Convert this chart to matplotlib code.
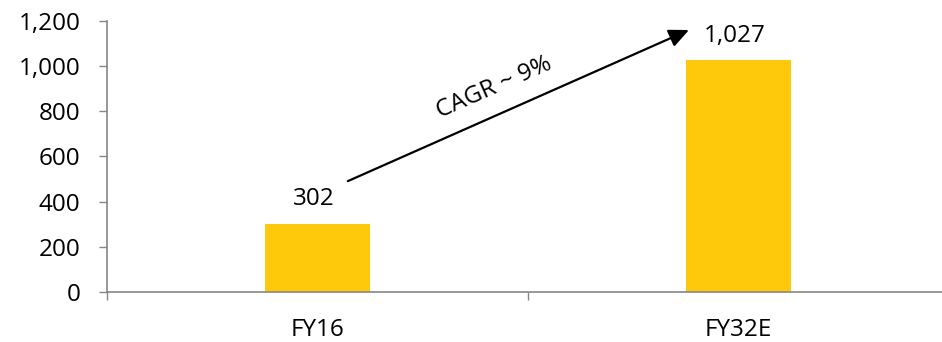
import matplotlib
matplotlib.use("Agg")
import matplotlib.pyplot as plt
from matplotlib.ticker import FuncFormatter, FixedLocator

# market size, FY16 actual vs FY32 estimate
years = ["FY16", "FY32E"]
values = [302, 1027]
cagr_text = "CAGR ~ 9%"

bar_colour = "#FFC90B"
axis_grey = "#868686"

plt.rcParams["font.family"] = ["Open Sans", "DejaVu Sans"]

fig = plt.figure(figsize=(9.42, 3.42), dpi=100)
ax = fig.add_axes([0.1136, 0.1462, 0.894, 0.7924])

x = list(range(len(years)))
ax.bar(x, values, width=0.25, color=bar_colour, zorder=2)

for xi, v in zip(x, values):
    ax.text(xi - 0.01, v + 55, f"{v:,}", ha="center", va="bottom", fontsize=17.5, color="black")

# growth arrow between the two bars
ax.annotate("", xy=(0.882, 1160), xytext=(0.072, 491),
            arrowprops=dict(arrowstyle="-|>,head_length=1.2,head_width=0.55",
                            color="black", lw=1.6, shrinkA=0, shrinkB=0))
ax.text(0.42, 905, cagr_text, rotation=23.7, ha="center", va="center",
        fontsize=17.5, rotation_mode="anchor")

ax.set_xlim(-0.5, 1.5)
ax.set_ylim(0, 1200)
ax.set_yticks(range(0, 1201, 200))
ax.yaxis.set_major_formatter(FuncFormatter(lambda v, p: f"{int(v):,}"))

ax.set_xticks(x)
ax.set_xticklabels(years)
ax.xaxis.set_minor_locator(FixedLocator([-0.5, 0.5, 1.5]))
ax.tick_params(axis="x", which="major", length=0, pad=19, labelsize=17.5)
ax.tick_params(axis="x", which="minor", length=6, width=1, color=axis_grey, direction="out")
ax.tick_params(axis="y", length=6, width=1, color=axis_grey, direction="out", pad=13, labelsize=17.5)

for side in ["top", "right"]:
    ax.spines[side].set_visible(False)
for side in ["left", "bottom"]:
    ax.spines[side].set_color(axis_grey)
    ax.spines[side].set_linewidth(1.2)

fig.savefig("out.png", dpi=100)
